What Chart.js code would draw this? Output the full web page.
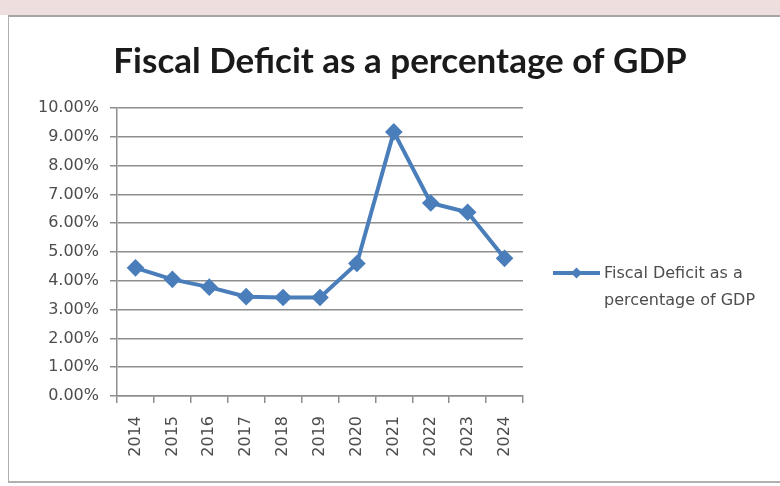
<!DOCTYPE html>
<html>
<head>
<meta charset="utf-8">
<script src="https://cdn.jsdelivr.net/npm/chart.js@4.4.1/dist/chart.umd.min.js"></script>
<style>
  html, body { margin: 0; padding: 0; background: #ffffff; }
  #wrap { position: relative; width: 780px; height: 486px; overflow: hidden; background: #ffffff; }
  #band { position: absolute; left: 0; top: 0; width: 780px; height: 15px; background: #efdede; }
  #frame { position: absolute; left: 8px; top: 15px; width: 790px; height: 468px; border-top: 2px solid #a8a4a4; border-left: 1px solid #b0b0b0; border-bottom: 2px solid #b0b0b0; box-sizing: border-box; }
  #c { position: absolute; left: 0; top: 0; }
</style>
</head>
<body>
<div id="wrap">
  <div id="band"></div>
  <div id="frame"></div>
  <canvas id="c" width="780" height="486"></canvas>
</div>
<script>
const chartTitle = "Fiscal Deficit as a percentage of GDP";
const seriesName = ["Fiscal Deficit as a", "percentage of GDP"];
const years = ["2014", "2015", "2016", "2017", "2018", "2019", "2020", "2021", "2022", "2023", "2024"];
const deficitPct = [4.45, 4.05, 3.78, 3.45, 3.42, 3.42, 4.6, 9.17, 6.7, 6.38, 4.78];
const yTicks = [0, 1, 2, 3, 4, 5, 6, 7, 8, 9, 10];

const lineColor = "#4a7ebb";
const gridColor = "#8e8e8e";
const textColor = "#4d4d4d";
const tickFont = { family: "DejaVu Sans", size: 16 };

const titleLegendPlugin = {
  id: "titleLegend",
  afterDraw(chart) {
    const ctx = chart.ctx;
    ctx.save();
    // title
    ctx.fillStyle = "#1a1a1a";
    ctx.font = "bold 35px Lato";
    ctx.textAlign = "center";
    ctx.textBaseline = "alphabetic";
    ctx.fillText(chartTitle, 400, 73);
    // legend
    const x0 = 553, x1 = 600, y = 273;
    ctx.strokeStyle = lineColor;
    ctx.lineWidth = 4;
    ctx.beginPath(); ctx.moveTo(x0, y); ctx.lineTo(x1, y); ctx.stroke();
    ctx.fillStyle = lineColor;
    const m = 5.5, cx = (x0 + x1) / 2;
    ctx.beginPath();
    ctx.moveTo(cx, y - m); ctx.lineTo(cx + m, y); ctx.lineTo(cx, y + m); ctx.lineTo(cx - m, y);
    ctx.closePath(); ctx.fill();
    ctx.fillStyle = textColor;
    ctx.font = "16px 'DejaVu Sans'";
    ctx.textBaseline = "middle";
    ctx.textAlign = "left";
    ctx.fillText(seriesName[0], 604, 274);
    ctx.fillText(seriesName[1], 604, 301);
    ctx.restore();
  }
};

new Chart(document.getElementById("c"), {
  type: "line",
  data: {
    labels: years,
    datasets: [{
      label: seriesName.join(" "),
      data: deficitPct,
      borderColor: lineColor,
      backgroundColor: lineColor,
      borderWidth: 4,
      pointStyle: "rectRot",
      pointRadius: 6,
      pointHoverRadius: 6,
      pointBackgroundColor: lineColor,
      pointBorderColor: lineColor,
      tension: 0,
      fill: false
    }]
  },
  options: {
    responsive: false,
    animation: false,
    devicePixelRatio: 1,
    layout: { padding: { left: 0, right: 257, top: 108, bottom: 0 } },
    plugins: {
      legend: { display: false },
      tooltip: { enabled: false },
      title: { display: false }
    },
    scales: {
      x: {
        offset: true,
        grid: { display: true, drawOnChartArea: false, drawTicks: true, tickLength: 7, offset: true, color: gridColor, lineWidth: 1.5 },
        border: { display: true, color: gridColor, width: 1.5 },
        ticks: { color: textColor, font: tickFont, minRotation: 90, maxRotation: 90, padding: 13, autoSkip: false },
        afterFit(s) { s.height = 90; }
      },
      y: {
        min: 0, max: 10,
        afterBuildTicks(s) { s.ticks = yTicks.map(v => ({ value: v })); },
        grid: { color: gridColor, lineWidth: 1.5, drawTicks: true, tickLength: 7 },
        border: { display: true, color: gridColor, width: 1.5 },
        ticks: { color: textColor, font: tickFont, padding: 11, callback: v => v.toFixed(2) + "%" },
        afterFit(s) { s.width = 117; }
      }
    }
  },
  plugins: [titleLegendPlugin]
});
</script>
</body>
</html>
